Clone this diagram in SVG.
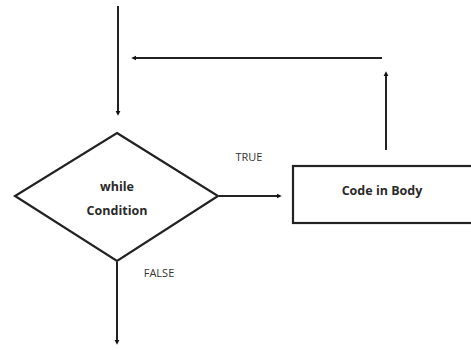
<svg xmlns="http://www.w3.org/2000/svg" width="471" height="350" viewBox="0 0 471 350">
  <style>
    .shape { fill: #ffffff; stroke: #222222; stroke-width: 2.2; }
    .wire { fill: none; stroke: #222222; stroke-width: 2; }
    .label { font-family: "Open Sans", "Liberation Sans", sans-serif; font-weight: bold; font-size: 12.5px; fill: #2a2a2a; text-anchor: middle; }
    .tag { font-family: "Open Sans", "Liberation Sans", sans-serif; font-size: 11px; fill: #333333; text-anchor: middle; }
  </style>
  <defs>
    <marker id="head" viewBox="0 0 6 6" refX="4" refY="3" markerWidth="2.6" markerHeight="2.6" orient="auto" markerUnits="strokeWidth">
      <path d="M0,0 L6,3 L0,6 Z" fill="#111111"/>
    </marker>
  </defs>
  <rect width="471" height="350" fill="#ffffff"/>

  <g id="connectors">
    <line class="wire" x1="118" y1="6" x2="118" y2="114" marker-end="url(#head)"/>
    <line class="wire" x1="382" y1="58" x2="133" y2="58" marker-end="url(#head)"/>
    <line class="wire" x1="386" y1="150" x2="386" y2="73" marker-end="url(#head)"/>
    <line class="wire" x1="219" y1="196" x2="280" y2="196" marker-end="url(#head)"/>
    <line class="wire" x1="117" y1="262" x2="117" y2="343" marker-end="url(#head)"/>
  </g>

  <g id="while-condition">
    <polygon class="shape" points="117,133 218,196 117,261 15,196"/>
    <text class="label" x="117" y="191">while</text>
    <text class="label" x="117" y="215">Condition</text>
  </g>

  <g id="code-in-body">
    <rect class="shape" x="293" y="166" width="190" height="57"/>
    <text class="label" x="382" y="195">Code in Body</text>
  </g>

  <g id="labels">
    <text class="tag" x="249" y="161">TRUE</text>
    <text class="tag" x="159" y="277">FALSE</text>
  </g>
</svg>
